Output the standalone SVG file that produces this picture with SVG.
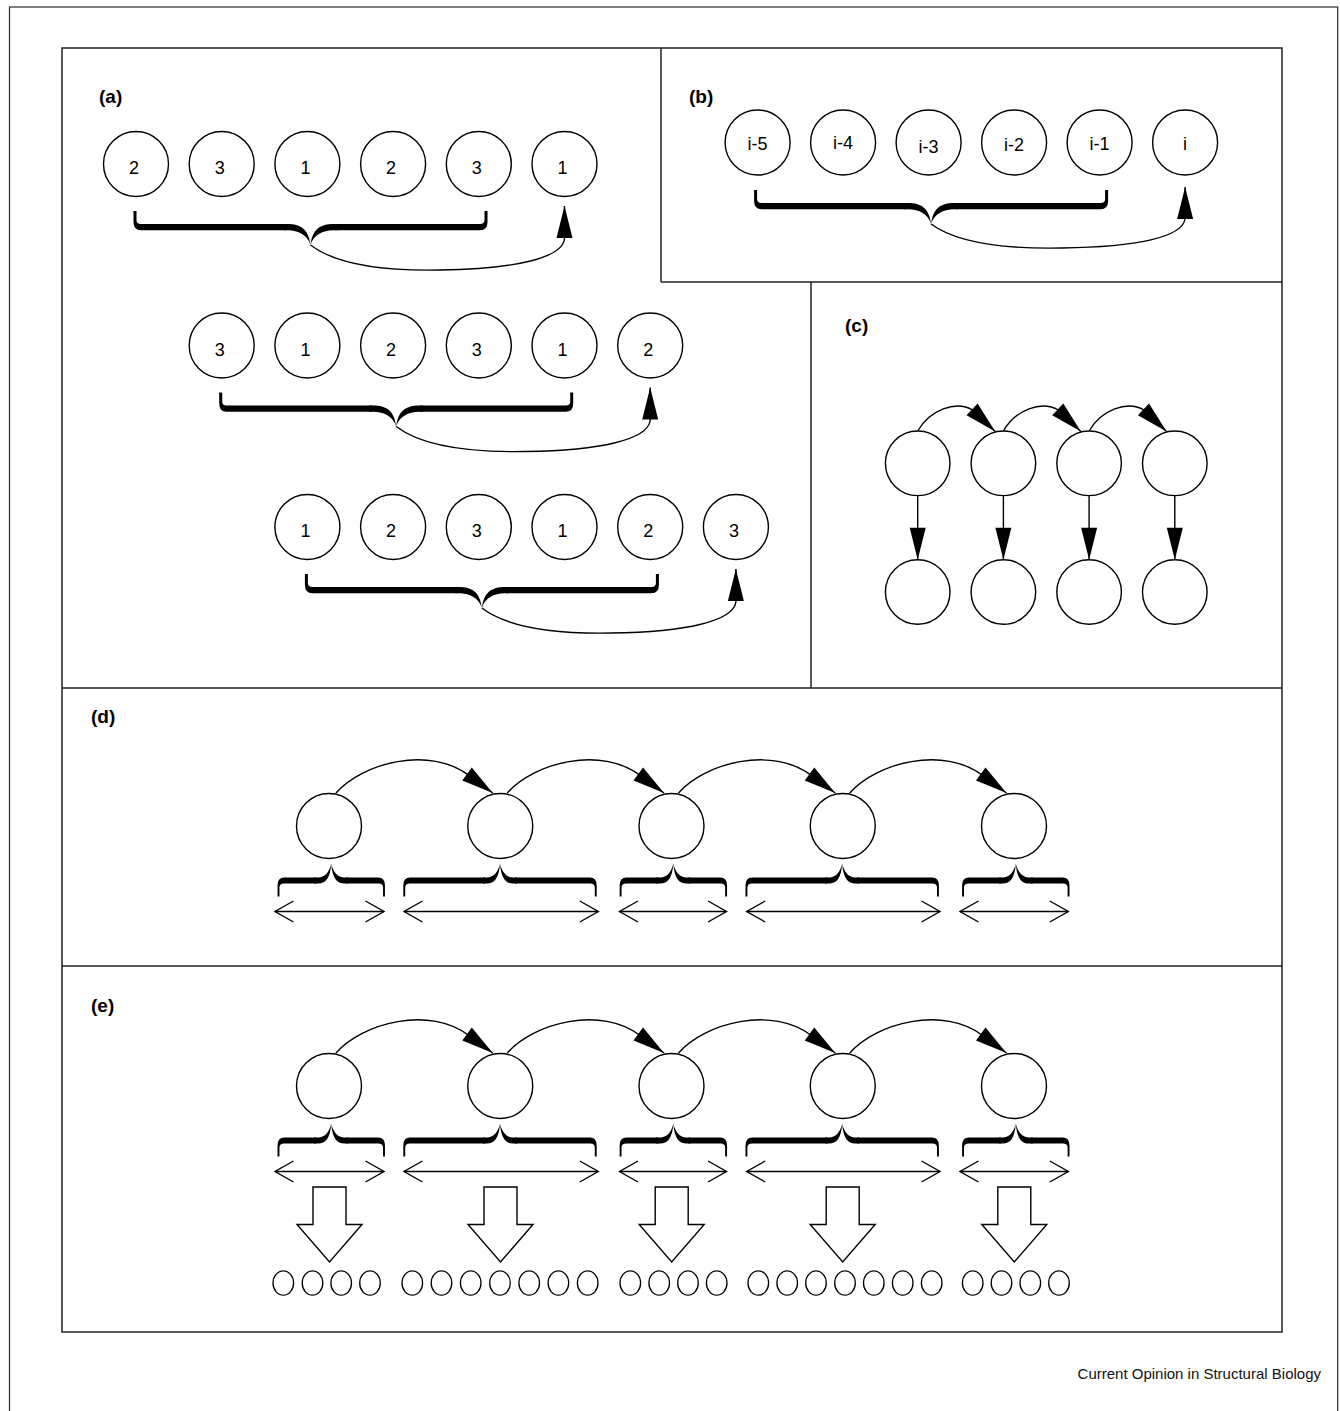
<svg xmlns="http://www.w3.org/2000/svg" xmlns:xlink="http://www.w3.org/1999/xlink" width="1340" height="1411" viewBox="0 0 1340 1411">
  <style>
    .outer { fill: none; stroke: #2a2a2a; stroke-width: 1.2; }
    .frame { fill: none; stroke: #222; stroke-width: 1.5; }
    .node { fill: #fff; stroke: #000; stroke-width: 1.4; }
    .dot { fill: #fff; stroke: #000; stroke-width: 1.3; }
    .num { font-family: "Liberation Sans", Arial, Helvetica, sans-serif; font-size: 18px; text-anchor: middle; fill: #000; }
    .idx { font-family: "Liberation Sans", Arial, Helvetica, sans-serif; font-size: 18px; text-anchor: middle; fill: #000; }
    .plabel { font-family: "Liberation Sans", Arial, Helvetica, sans-serif; font-size: 19px; font-weight: bold; fill: #000; }
    .credit { font-family: "Liberation Sans", Arial, Helvetica, sans-serif; font-size: 15px; text-anchor: end; fill: #111; }
    .conn { fill: none; stroke: #000; stroke-width: 1.4; }
    .dep { fill: none; stroke: #000; stroke-width: 1.4; marker-end: url(#tri); }
    .span { fill: none; stroke: #000; stroke-width: 1.4; marker-start: url(#vee); marker-end: url(#vee); }
    .brace { fill: #000; }
    .block { fill: #fff; stroke: #000; stroke-width: 1.4; stroke-linejoin: miter; }
  </style>
  <defs>
    <!-- solid arrowhead, tip sits on the path end -->
    <marker id="tri" markerUnits="userSpaceOnUse" markerWidth="34" markerHeight="18" viewBox="0 0 34 18" refX="33" refY="9" orient="auto">
      <path d="M1,1 L33,9 L1,17 Z" fill="#000"/>
    </marker>
    <!-- open chevron for the two-headed span arrows -->
    <marker id="vee" markerUnits="userSpaceOnUse" markerWidth="21" markerHeight="23" viewBox="0 0 21 23" refX="19.5" refY="11.5" orient="auto-start-reverse">
      <path d="M1,1 L19.5,11.5 L1,22" fill="none" stroke="#000" stroke-width="1.4"/>
    </marker>

    <!-- under-brace (ends up, point down), half width 175.5 -->
    <g id="braceA" class="brace">
      <path d="M-27,-3 L-23,-3 C-10,-3 -2,2 0,18 C2,2 10,-3 23,-3 L27,-3 L27,3.2 L23,3.2 C12,3.2 3,8 0,18 C-3,8 -12,3.2 -23,3.2 L-27,3.2 Z"/>
      <path d="M-177,-16 L-174,-16 L-174,-7 Q-174,-3 -169.5,-3 L-24,-3 L-24,3.2 L-169.5,3.2 Q-177,3.2 -177,-5 Z"/>
      <path d="M177,-16 L174,-16 L174,-7 Q174,-3 169.5,-3 L24,-3 L24,3.2 L169.5,3.2 Q177,3.2 177,-5 Z"/>
    </g>
    <!-- over-brace tip (point up) -->
    <path id="tipUp" d="M-17,3 L-13,3 C-6,3 -1,-2 0,-17 C1,-2 6,3 13,3 L17,3 L17,-3 L13,-3 C7,-3 2,-8 0,-17 C-2,-8 -7,-3 -13,-3 L-17,-3 Z"/>
    <!-- short over-brace, half width 52.75 -->
    <g id="braceS" class="brace">
      <use xlink:href="#tipUp" href="#tipUp"/>
      <path d="M-53.7,16 L-51.8,16 L-51.8,7 Q-51.8,3 -47,3 L-15,3 L-15,-3 L-47,-3 Q-53.7,-3 -53.7,5 Z"/>
      <path d="M53.7,16 L51.8,16 L51.8,7 Q51.8,3 47,3 L15,3 L15,-3 L47,-3 Q53.7,-3 53.7,5 Z"/>
    </g>
    <!-- long over-brace, half width 95.75 -->
    <g id="braceL" class="brace">
      <use xlink:href="#tipUp" href="#tipUp"/>
      <path d="M-96.7,16 L-94.8,16 L-94.8,7 Q-94.8,3 -90,3 L-15,3 L-15,-3 L-90,-3 Q-96.7,-3 -96.7,5 Z"/>
      <path d="M96.7,16 L94.8,16 L94.8,7 Q94.8,3 90,3 L15,3 L15,-3 L90,-3 Q96.7,-3 96.7,5 Z"/>
    </g>
    <!-- hollow block arrow pointing down -->
    <path id="blockArrow" d="M-16.5,0 H16.5 V37.5 H32.5 L0,75 L-32.5,37.5 H-16.5 Z"/>
  </defs>

  <rect width="1340" height="1411" fill="#fff"/>

  <!-- frames -->
  <g id="frames">
    <rect class="outer" x="9.5" y="7" width="1328.2" height="1420"/>
    <rect class="frame" x="62" y="48" width="1220" height="1284"/>
    <line class="frame" x1="661" y1="48" x2="661" y2="282"/>
    <line class="frame" x1="661" y1="282" x2="1282" y2="282"/>
    <line class="frame" x1="811" y1="282" x2="811" y2="688"/>
    <line class="frame" x1="62" y1="688" x2="1282" y2="688"/>
    <line class="frame" x1="62" y1="966" x2="1282" y2="966"/>
  </g>

  <!-- panel labels -->
  <g id="panel-labels">
    <text class="plabel" x="99" y="103">(a)</text>
    <text class="plabel" x="689" y="103">(b)</text>
    <text class="plabel" x="845" y="332">(c)</text>
    <text class="plabel" x="91" y="723">(d)</text>
    <text class="plabel" x="91" y="1012">(e)</text>
  </g>

  <!-- connectors -->
  <g id="connectors">
    <!-- (a) window braces and prediction arrows -->
    <use xlink:href="#braceA" href="#braceA" x="310.5" y="227"/>
    <use xlink:href="#braceA" href="#braceA" x="396.2" y="408.5"/>
    <use xlink:href="#braceA" href="#braceA" x="481.9" y="590"/>
    <path class="dep" d="M310.5,245 C338,266 390,271 440,270 C515,269 562,258 564.5,239 L564.5,206"/>
    <path class="dep" d="M396.2,426.5 C423.7,447.5 475.7,452.5 525.7,451.5 C600.7,450.5 647.7,439.5 650.2,420.5 L650.2,387.5"/>
    <path class="dep" d="M481.9,608 C509.4,629 561.4,634 611.4,633 C686.4,632 733.4,621 735.9,602 L735.9,569"/>

    <!-- (b) -->
    <use xlink:href="#braceA" href="#braceA" x="931.1" y="206"/>
    <path class="dep" d="M931.1,224 C958,244 1010,249 1062,248 C1138,247 1182,237 1185.1,219 L1185.1,187"/>

    <!-- (c) chain and emissions -->
    <path class="dep" d="M917.7,431 C929.7,410 955.7,400 972.7,410 L995.2,431.5"/>
    <path class="dep" d="M1003.4,431 C1015.4,410 1041.4,400 1058.4,410 L1080.9,431.5"/>
    <path class="dep" d="M1089.1,431 C1101.1,410 1127.1,400 1144.1,410 L1166.6,431.5"/>
    <path class="dep" d="M917.7,495.6 L917.7,559.7"/>
    <path class="dep" d="M1003.4,495.6 L1003.4,559.7"/>
    <path class="dep" d="M1089.1,495.6 L1089.1,559.7"/>
    <path class="dep" d="M1174.8,495.6 L1174.8,559.7"/>

    <!-- (d) segment chain -->
    <path class="dep" d="M336,793 C362,763 430,745 469.75,776 L492.75,793"/>
    <path class="dep" d="M507.25,793 C533.25,763 601.25,745 641,776 L664,793"/>
    <path class="dep" d="M678.5,793 C704.5,763 772.5,745 812.25,776 L835.25,793"/>
    <path class="dep" d="M849.75,793 C875.75,763 943.75,745 983.5,776 L1006.5,793"/>
    <use xlink:href="#braceS" href="#braceS" x="331.25" y="880.5"/>
    <use xlink:href="#braceL" href="#braceL" x="500" y="880.5"/>
    <use xlink:href="#braceS" href="#braceS" x="673.35" y="880.5"/>
    <use xlink:href="#braceL" href="#braceL" x="842.2" y="880.5"/>
    <use xlink:href="#braceS" href="#braceS" x="1015.8" y="880.5"/>
    <line class="span" x1="275" y1="911.5" x2="384" y2="911.5"/>
    <line class="span" x1="404" y1="911.5" x2="598.3" y2="911.5"/>
    <line class="span" x1="619.5" y1="911.5" x2="726.5" y2="911.5"/>
    <line class="span" x1="746.7" y1="911.5" x2="940" y2="911.5"/>
    <line class="span" x1="960" y1="911.5" x2="1068.3" y2="911.5"/>

    <!-- (e) segment chain with residue output -->
    <path class="dep" d="M336,1053 C362,1023 430,1005 469.75,1036 L492.75,1053"/>
    <path class="dep" d="M507.25,1053 C533.25,1023 601.25,1005 641,1036 L664,1053"/>
    <path class="dep" d="M678.5,1053 C704.5,1023 772.5,1005 812.25,1036 L835.25,1053"/>
    <path class="dep" d="M849.75,1053 C875.75,1023 943.75,1005 983.5,1036 L1006.5,1053"/>
    <use xlink:href="#braceS" href="#braceS" x="331.25" y="1140.5"/>
    <use xlink:href="#braceL" href="#braceL" x="500" y="1140.5"/>
    <use xlink:href="#braceS" href="#braceS" x="673.35" y="1140.5"/>
    <use xlink:href="#braceL" href="#braceL" x="842.2" y="1140.5"/>
    <use xlink:href="#braceS" href="#braceS" x="1015.8" y="1140.5"/>
    <line class="span" x1="275" y1="1171.5" x2="384" y2="1171.5"/>
    <line class="span" x1="404" y1="1171.5" x2="598.3" y2="1171.5"/>
    <line class="span" x1="619.5" y1="1171.5" x2="726.5" y2="1171.5"/>
    <line class="span" x1="746.7" y1="1171.5" x2="940" y2="1171.5"/>
    <line class="span" x1="960" y1="1171.5" x2="1068.3" y2="1171.5"/>
    <use class="block" xlink:href="#blockArrow" href="#blockArrow" x="329.5" y="1187"/>
    <use class="block" xlink:href="#blockArrow" href="#blockArrow" x="500.5" y="1187"/>
    <use class="block" xlink:href="#blockArrow" href="#blockArrow" x="671.7" y="1187"/>
    <use class="block" xlink:href="#blockArrow" href="#blockArrow" x="842.7" y="1187"/>
    <use class="block" xlink:href="#blockArrow" href="#blockArrow" x="1014.3" y="1187"/>
  </g>

  <!-- (a) residue nodes, three shifted windows -->
  <g id="a-row1">
    <g id="a1-1"><circle class="node" cx="136" cy="164" r="32.5"/><text class="num" x="134" y="174">2</text></g>
    <g id="a1-2"><circle class="node" cx="221.7" cy="164" r="32.5"/><text class="num" x="219.7" y="174">3</text></g>
    <g id="a1-3"><circle class="node" cx="307.4" cy="164" r="32.5"/><text class="num" x="305.4" y="174">1</text></g>
    <g id="a1-4"><circle class="node" cx="393.1" cy="164" r="32.5"/><text class="num" x="391.1" y="174">2</text></g>
    <g id="a1-5"><circle class="node" cx="478.8" cy="164" r="32.5"/><text class="num" x="476.8" y="174">3</text></g>
    <g id="a1-6"><circle class="node" cx="564.5" cy="164" r="32.5"/><text class="num" x="562.5" y="174">1</text></g>
  </g>
  <g id="a-row2">
    <g id="a2-1"><circle class="node" cx="221.7" cy="345.5" r="32.5"/><text class="num" x="219.7" y="355.5">3</text></g>
    <g id="a2-2"><circle class="node" cx="307.4" cy="345.5" r="32.5"/><text class="num" x="305.4" y="355.5">1</text></g>
    <g id="a2-3"><circle class="node" cx="393.1" cy="345.5" r="32.5"/><text class="num" x="391.1" y="355.5">2</text></g>
    <g id="a2-4"><circle class="node" cx="478.8" cy="345.5" r="32.5"/><text class="num" x="476.8" y="355.5">3</text></g>
    <g id="a2-5"><circle class="node" cx="564.5" cy="345.5" r="32.5"/><text class="num" x="562.5" y="355.5">1</text></g>
    <g id="a2-6"><circle class="node" cx="650.2" cy="345.5" r="32.5"/><text class="num" x="648.2" y="355.5">2</text></g>
  </g>
  <g id="a-row3">
    <g id="a3-1"><circle class="node" cx="307.4" cy="527" r="32.5"/><text class="num" x="305.4" y="537">1</text></g>
    <g id="a3-2"><circle class="node" cx="393.1" cy="527" r="32.5"/><text class="num" x="391.1" y="537">2</text></g>
    <g id="a3-3"><circle class="node" cx="478.8" cy="527" r="32.5"/><text class="num" x="476.8" y="537">3</text></g>
    <g id="a3-4"><circle class="node" cx="564.5" cy="527" r="32.5"/><text class="num" x="562.5" y="537">1</text></g>
    <g id="a3-5"><circle class="node" cx="650.2" cy="527" r="32.5"/><text class="num" x="648.2" y="537">2</text></g>
    <g id="a3-6"><circle class="node" cx="735.9" cy="527" r="32.5"/><text class="num" x="733.9" y="537">3</text></g>
  </g>

  <!-- (b) sliding window over i-5 .. i -->
  <g id="b-nodes">
    <g id="b-i5"><circle class="node" cx="757.6" cy="142.5" r="32.5"/><text class="idx" x="757.6" y="150">i-5</text></g>
    <g id="b-i4"><circle class="node" cx="843.1" cy="142.5" r="32.5"/><text class="idx" x="843.1" y="148.5">i-4</text></g>
    <g id="b-i3"><circle class="node" cx="928.6" cy="142.5" r="32.5"/><text class="idx" x="928.6" y="152.5">i-3</text></g>
    <g id="b-i2"><circle class="node" cx="1014.1" cy="142.5" r="32.5"/><text class="idx" x="1014.1" y="151">i-2</text></g>
    <g id="b-i1"><circle class="node" cx="1099.6" cy="142.5" r="32.5"/><text class="idx" x="1099.6" y="149.5">i-1</text></g>
    <g id="b-i"><circle class="node" cx="1185.1" cy="142.5" r="32.5"/><text class="idx" x="1185.1" y="150">i</text></g>
  </g>

  <!-- (c) hidden states and observations -->
  <g id="c-nodes">
    <g id="c-h1"><circle class="node" cx="917.7" cy="463.3" r="32.3"/></g>
    <g id="c-h2"><circle class="node" cx="1003.4" cy="463.3" r="32.3"/></g>
    <g id="c-h3"><circle class="node" cx="1089.1" cy="463.3" r="32.3"/></g>
    <g id="c-h4"><circle class="node" cx="1174.8" cy="463.3" r="32.3"/></g>
    <g id="c-o1"><circle class="node" cx="917.7" cy="592" r="32.3"/></g>
    <g id="c-o2"><circle class="node" cx="1003.4" cy="592" r="32.3"/></g>
    <g id="c-o3"><circle class="node" cx="1089.1" cy="592" r="32.3"/></g>
    <g id="c-o4"><circle class="node" cx="1174.8" cy="592" r="32.3"/></g>
  </g>

  <!-- (d) segment states -->
  <g id="d-nodes">
    <g id="d-s1"><circle class="node" cx="329" cy="826" r="32.5"/></g>
    <g id="d-s2"><circle class="node" cx="500.25" cy="826" r="32.5"/></g>
    <g id="d-s3"><circle class="node" cx="671.5" cy="826" r="32.5"/></g>
    <g id="d-s4"><circle class="node" cx="842.75" cy="826" r="32.5"/></g>
    <g id="d-s5"><circle class="node" cx="1014" cy="826" r="32.5"/></g>
  </g>

  <!-- (e) segment states -->
  <g id="e-nodes">
    <g id="e-s1"><circle class="node" cx="329" cy="1086" r="32.5"/></g>
    <g id="e-s2"><circle class="node" cx="500.25" cy="1086" r="32.5"/></g>
    <g id="e-s3"><circle class="node" cx="671.5" cy="1086" r="32.5"/></g>
    <g id="e-s4"><circle class="node" cx="842.75" cy="1086" r="32.5"/></g>
    <g id="e-s5"><circle class="node" cx="1014" cy="1086" r="32.5"/></g>
  </g>

  <!-- (e) emitted residues per segment -->
  <g id="e-residues-1">
    <ellipse class="dot" cx="283.3" cy="1283" rx="10.3" ry="12.2"/>
    <ellipse class="dot" cx="312.5" cy="1283" rx="10.3" ry="12.2"/>
    <ellipse class="dot" cx="341.2" cy="1283" rx="10.3" ry="12.2"/>
    <ellipse class="dot" cx="370" cy="1283" rx="10.3" ry="12.2"/>
  </g>
  <g id="e-residues-2">
    <ellipse class="dot" cx="412.3" cy="1283" rx="10.3" ry="12.2"/>
    <ellipse class="dot" cx="441.5" cy="1283" rx="10.3" ry="12.2"/>
    <ellipse class="dot" cx="470.7" cy="1283" rx="10.3" ry="12.2"/>
    <ellipse class="dot" cx="500" cy="1283" rx="10.3" ry="12.2"/>
    <ellipse class="dot" cx="529.2" cy="1283" rx="10.3" ry="12.2"/>
    <ellipse class="dot" cx="558.4" cy="1283" rx="10.3" ry="12.2"/>
    <ellipse class="dot" cx="587.7" cy="1283" rx="10.3" ry="12.2"/>
  </g>
  <g id="e-residues-3">
    <ellipse class="dot" cx="630.3" cy="1283" rx="10.3" ry="12.2"/>
    <ellipse class="dot" cx="659.2" cy="1283" rx="10.3" ry="12.2"/>
    <ellipse class="dot" cx="688" cy="1283" rx="10.3" ry="12.2"/>
    <ellipse class="dot" cx="716.7" cy="1283" rx="10.3" ry="12.2"/>
  </g>
  <g id="e-residues-4">
    <ellipse class="dot" cx="758.3" cy="1283" rx="10.3" ry="12.2"/>
    <ellipse class="dot" cx="787.2" cy="1283" rx="10.3" ry="12.2"/>
    <ellipse class="dot" cx="816" cy="1283" rx="10.3" ry="12.2"/>
    <ellipse class="dot" cx="845" cy="1283" rx="10.3" ry="12.2"/>
    <ellipse class="dot" cx="873.8" cy="1283" rx="10.3" ry="12.2"/>
    <ellipse class="dot" cx="902.7" cy="1283" rx="10.3" ry="12.2"/>
    <ellipse class="dot" cx="931.7" cy="1283" rx="10.3" ry="12.2"/>
  </g>
  <g id="e-residues-5">
    <ellipse class="dot" cx="972.7" cy="1283" rx="10.3" ry="12.2"/>
    <ellipse class="dot" cx="1001.5" cy="1283" rx="10.3" ry="12.2"/>
    <ellipse class="dot" cx="1030.3" cy="1283" rx="10.3" ry="12.2"/>
    <ellipse class="dot" cx="1059" cy="1283" rx="10.3" ry="12.2"/>
  </g>

  <text class="credit" x="1321" y="1379">Current Opinion in Structural Biology</text>
</svg>
